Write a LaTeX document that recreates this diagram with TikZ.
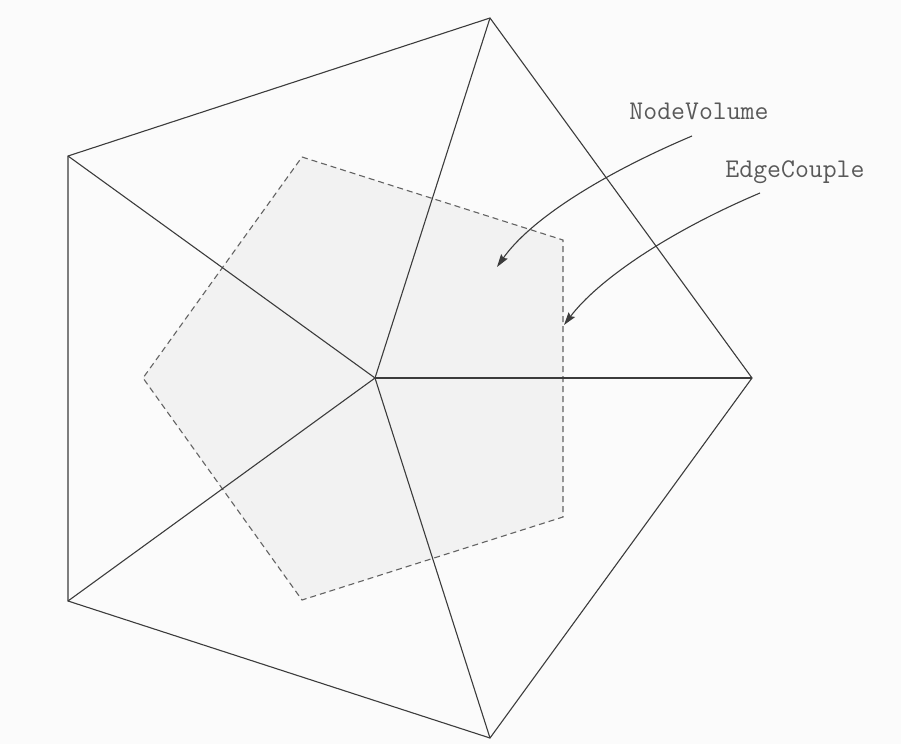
\documentclass[tikz,border=0pt]{standalone}
\usetikzlibrary{arrows.meta}
\definecolor{bgc}{RGB}{251,251,251}
\definecolor{fillc}{RGB}{242,242,242}
\definecolor{linec}{RGB}{60,60,60}
\begin{document}
\begin{tikzpicture}[x=1pt,y=-1pt,
  edge/.style={draw=linec,line width=1.1pt},
  dual/.style={draw=linec!80,line width=1.1pt,dash pattern=on 6pt off 4pt,fill=fillc},
  lbl/.style={font=\ttfamily\fontsize{27}{30}\selectfont,text=linec!85,inner sep=0pt},
  pointer/.style={draw=linec,line width=1.1pt,-{Stealth[length=13pt,width=8pt,inset=2pt]}}]
\fill[bgc] (0,0) rectangle (901,744);
\useasboundingbox (0,0) rectangle (901,744);
% dual (node volume) pentagon
\coordinate (d1) at (302,157);
\coordinate (d2) at (563,240);
\coordinate (d3) at (563,517);
\coordinate (d4) at (302,600);
\coordinate (d5) at (143,378);
\path[dual] (d1) -- (d2) -- (d3) -- (d4) -- (d5) -- cycle;
% outer pentagon
\coordinate (c) at (375,378);
\coordinate (v1) at (490,18);
\coordinate (v2) at (752,378);
\coordinate (v3) at (490,738);
\coordinate (v4) at (68,601);
\coordinate (v5) at (68,156);
\draw[edge,line join=miter] (v1) -- (v2) -- (v3) -- (v4) -- (v5) -- cycle;
\foreach \v in {v1,v2,v3,v4,v5} \draw[edge] (c) -- (\v);
% labels
\node[lbl] (nv) at (699,111) {NodeVolume};
\node[lbl] (ec) at (795,172) {EdgeCouple};
\coordinate (nvs) at (692,136);
\coordinate (nve) at (497,267);
\coordinate (ecs) at (760,193);
\coordinate (ece) at (564,325);
\draw[pointer] (nvs) .. controls (600,175) and (530,220) .. (nve);
\draw[pointer] (ecs) .. controls (668,232) and (598,280) .. (ece);
\end{tikzpicture}
\end{document}
